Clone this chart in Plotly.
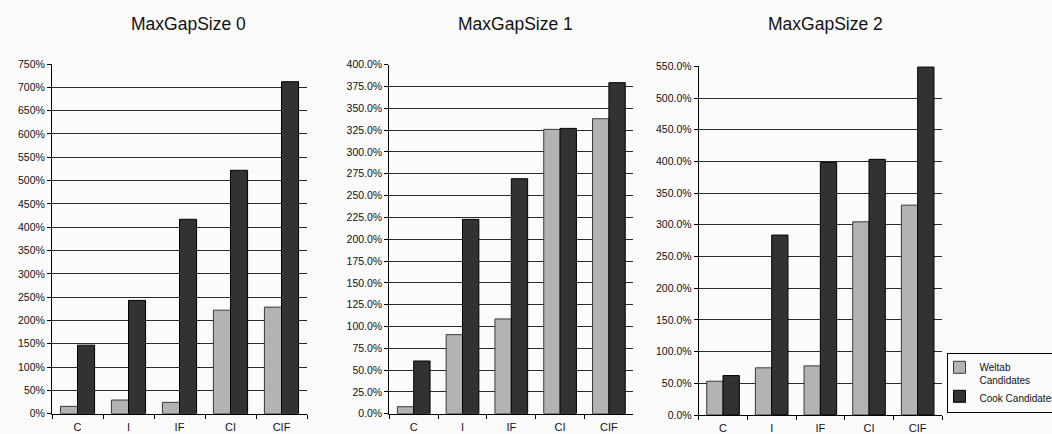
import plotly.graph_objects as go

# Reduction in candidate counts per reduction strategy, for three gap sizes (percent)
categories = ["C", "I", "IF", "CI", "CIF"]
panel_titles = ["MaxGapSize 0", "MaxGapSize 1", "MaxGapSize 2"]
series_names = ["Weltab<br>Candidates", "Cook Candidates"]

weltab_gap0 = [15.7, 29.3, 24.3, 222.0, 228.6]
cook_gap0 = [147.0, 243.0, 417.0, 522.0, 712.0]

weltab_gap1 = [8.0, 90.6, 108.6, 325.9, 338.1]
cook_gap1 = [60.4, 222.7, 269.3, 327.0, 379.4]

weltab_gap2 = [53.3, 74.4, 77.5, 304.7, 331.0]
cook_gap2 = [62.2, 283.8, 398.4, 403.2, 549.0]

y_max = [750, 400, 550]
y_step = [50, 25, 50]
y_format = ["d", ".1f", ".1f"]

W, H = 1052, 434
BG = "#fbfbfb"
LIGHT = "#b3b3b3"
DARK = "#323232"
FONT = "Liberation Sans, Arial, sans-serif"

# pixel boxes of the three plot areas: (left, right, top, bottom)
boxes = [(52, 307, 64.0, 413.7), (389.3, 633.3, 64.7, 413.7), (698.7, 942, 66.3, 415.0)]
title_x = [188, 515, 825]

fig = go.Figure()
data = [(weltab_gap0, cook_gap0), (weltab_gap1, cook_gap1), (weltab_gap2, cook_gap2)]
for i, (wel, cook) in enumerate(data):
    sfx = "" if i == 0 else str(i + 1)
    fig.add_trace(go.Bar(
        x=categories, y=wel, name=series_names[0], legendgroup="w",
        showlegend=(i == 0), xaxis="x" + sfx, yaxis="y" + sfx,
        marker=dict(color=LIGHT, line=dict(color="#3a3a3a", width=1)),
    ))
    fig.add_trace(go.Bar(
        x=categories, y=cook, name=series_names[1], legendgroup="c",
        showlegend=(i == 0), xaxis="x" + sfx, yaxis="y" + sfx,
        marker=dict(color=DARK, line=dict(color="#000000", width=1)),
    ))

layout = dict(
    width=W, height=H,
    paper_bgcolor=BG, plot_bgcolor=BG,
    margin=dict(l=0, r=0, t=0, b=0, autoexpand=False),
    barmode="group", bargap=0.33, bargroupgap=0,
    font=dict(family=FONT, color="#111111"),
    legend=dict(
        x=946.5 / W, y=(H - 353.3) / H, xanchor="left", yanchor="top",
        bgcolor=BG, bordercolor="#000000", borderwidth=1,
        font=dict(size=10, family=FONT, color="#111111"),
        valign="top", indentation=-8, tracegroupgap=0,
    ),
    annotations=[],
)

for i in range(3):
    sfx = "" if i == 0 else str(i + 1)
    l, r, t, b = boxes[i]
    layout["xaxis" + sfx] = dict(
        domain=[l / W, r / W], anchor="y" + sfx,
        showline=True, linecolor="#000000", linewidth=1,
        ticks="outside", ticklen=4, tickcolor="#000000", tickson="boundaries",
        ticklabelstandoff=3,
        tickfont=dict(size=11, family=FONT, color="#111111"),
        showgrid=False, fixedrange=True,
    )
    layout["yaxis" + sfx] = dict(
        domain=[(H - b) / H, (H - t) / H], anchor="x" + sfx,
        range=[0, y_max[i]], dtick=y_step[i], tick0=0,
        tickformat=y_format[i], ticksuffix="%",
        showline=True, linecolor="#000000", linewidth=1,
        ticks="outside", ticklen=4, tickcolor="#000000",
        showgrid=True, gridcolor="#2a2a2a", gridwidth=1, zeroline=False,
        tickfont=dict(size=10.5, family=FONT, color="#111111"),
        fixedrange=True,
    )
    layout["annotations"].append(dict(
        text=panel_titles[i], xref="paper", yref="paper",
        x=title_x[i] / W, y=(H - 24) / H, xanchor="center", yanchor="middle",
        showarrow=False, font=dict(size=17.5, family=FONT, color="#111111"),
    ))

fig.update_layout(**layout)
fig.write_html("out.html")
